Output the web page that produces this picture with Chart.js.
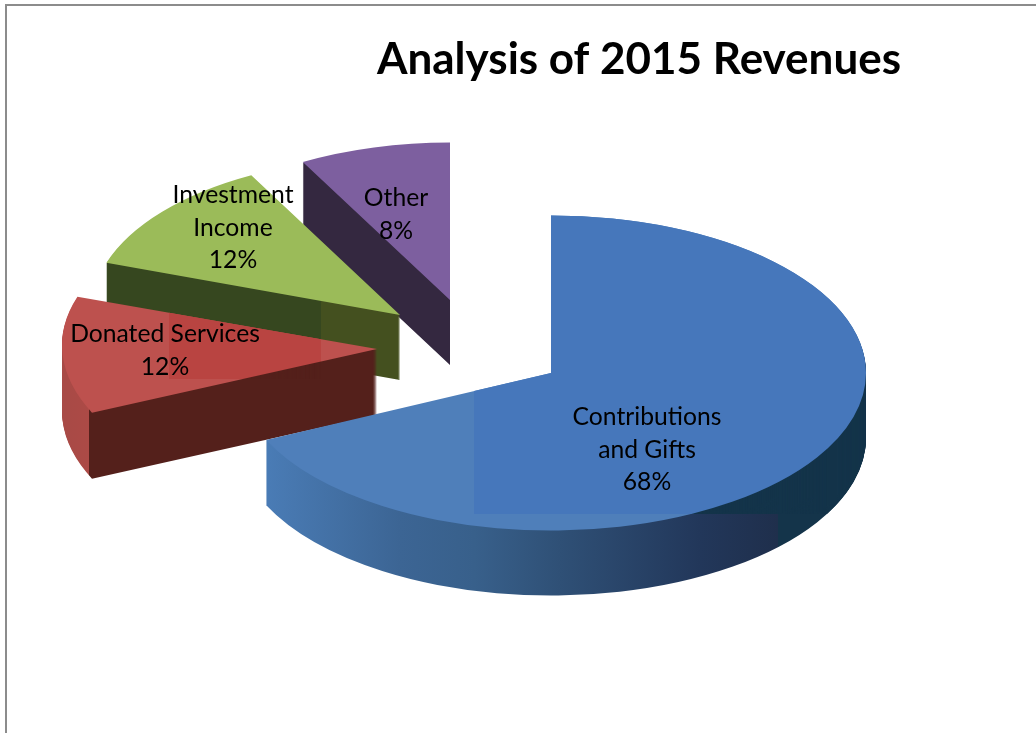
<!DOCTYPE html>
<html><head><meta charset="utf-8">
<style>
html,body{margin:0;padding:0;background:#fff;width:1036px;height:733px;overflow:hidden}
#c{position:absolute;left:0;top:0}
#frame{position:absolute;left:5px;top:4px;right:-5px;bottom:-5px;border-top:2px solid #8c8c8c;border-left:2px solid #8c8c8c}
</style>
<script src="https://cdn.jsdelivr.net/npm/chart.js@4/dist/chart.umd.js"></script>
</head><body>
<canvas id="c" width="1036" height="733"></canvas>
<div id="frame"></div>
<script>
const chartTitle = 'Analysis of 2015 Revenues';
const categories = ['Contributions and Gifts', 'Donated Services', 'Investment Income', 'Other'];
const values = [68, 12, 12, 8];
const labelLines = [['Contributions', 'and Gifts'], ['Donated Services'], ['Investment', 'Income'], ['Other']];

// styling / 3D projection settings
const squash = 0.5;
const depth = [65, 66, 65, 65];
const shift = [[0, 0], [-174, -24], [-151, -58], [-101, -73]];
const stretchX = [1, 1, 0.98, 0.97];
const skewY = [0, 0.012, 0.012, 0];
const labelPos = [[647, 417], [165, 334], [233, 195], [396, 198]];
const lineGap = 32.7;
const drawOrder = [3, 2, 1, 0];
const topColors = ['#4f7fba', '#bd514e', '#9bbb59', '#7d5f9f'];
const sideStops = [
  [[264, '#4a7cb6'], [400, '#3c6594'], [474, '#38608b'], [560, '#2f5076'], [700, '#22375a'], [778, '#1f2f4c'], [778.5, '#14344a'], [866, '#14344a']],
  [[62, '#a84a46'], [88.5, '#ac4a46'], [89.5, '#54201b'], [378, '#54201b']],
  [[105, '#36471f'], [321, '#36471f'], [321.5, '#44501f'], [400, '#44501f']],
  [[303, '#342840'], [450, '#342840']]
];
const patches = [
  {x: 474, y: 0, w: 562, h: 514, top: '#4677bb', side: '#14344a'},
  {x: 169, y: 280, w: 152, h: 99, top: '#b94441', side: '#54201b'},
  null, null
];

function hGrad(ctx, arc, i) {
  const stops = sideStops[i];
  const toLocal = x => arc.x + (x - (arc.x + shift[i][0])) / stretchX[i];
  const a = stops[0][0], b = stops[stops.length - 1][0];
  const g = ctx.createLinearGradient(toLocal(a), 0, toLocal(b), 0);
  stops.forEach(s => g.addColorStop((s[0] - a) / (b - a), s[1]));
  return g;
}
function drawArc(ctx, arc, i, fill, yOff) {
  const p = Object.create(arc);
  p.options = {backgroundColor: fill, borderColor: fill, borderWidth: 0, borderAlign: 'center',
    borderJoinStyle: 'round', borderRadius: 0, borderDash: [], borderDashOffset: 0,
    circular: true, offset: 0, spacing: 0, selfJoin: false};
  ctx.save();
  ctx.translate(arc.x + shift[i][0], arc.y + shift[i][1] + yOff);
  ctx.transform(stretchX[i], skewY[i], 0, squash, 0, 0);
  ctx.translate(-arc.x, -arc.y);
  p.draw(ctx);
  ctx.restore();
}
function paintSlice(ctx, arc, i, sideFill, topFill) {
  for (let d = depth[i]; d >= 1; d--) drawArc(ctx, arc, i, sideFill, d);
  drawArc(ctx, arc, i, topFill, 0);
}
const pie3d = {
  id: 'pie3d',
  beforeDatasetsDraw(chart) {
    const ctx = chart.ctx, arcs = chart.getDatasetMeta(0).data;
    drawOrder.forEach(i => {
      paintSlice(ctx, arcs[i], i, hGrad(ctx, arcs[i], i), topColors[i]);
      const pt = patches[i];
      if (pt) {
        ctx.save();
        ctx.beginPath(); ctx.rect(pt.x, pt.y, pt.w, pt.h); ctx.clip();
        paintSlice(ctx, arcs[i], i, pt.side, pt.top);
        ctx.restore();
      }
    });
    return false;
  },
  afterDraw(chart) {
    const ctx = chart.ctx;
    ctx.save();
    ctx.fillStyle = '#000';
    ctx.textAlign = 'center';
    ctx.textBaseline = 'alphabetic';
    ctx.font = 'bold 44px Lato';
    ctx.fillText(chartTitle, 639, 74);
    ctx.font = '24.7px Lato';
    values.forEach((v, i) => {
      const lines = labelLines[i].concat([v + '%']);
      lines.forEach((t, k) => ctx.fillText(t, labelPos[i][0], labelPos[i][1] + 8 + k * lineGap));
    });
    ctx.restore();
  }
};
new Chart(document.getElementById('c'), {
  type: 'pie',
  data: {labels: categories, datasets: [{data: values, backgroundColor: topColors, borderWidth: 0}]},
  options: {
    responsive: false, animation: false,
    layout: {padding: {left: 236, right: 170, top: 58, bottom: 45}},
    plugins: {legend: {display: false}, tooltip: {enabled: false}, title: {display: false}}
  },
  plugins: [pie3d]
});
</script>
</body></html>
